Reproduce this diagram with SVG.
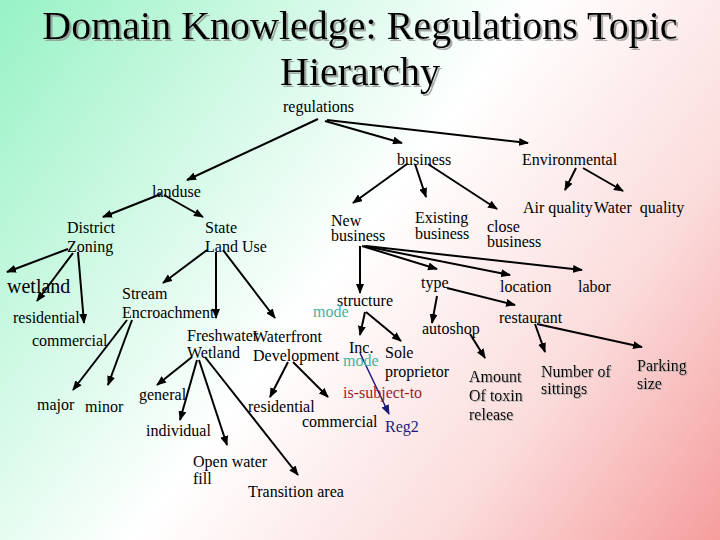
<svg xmlns="http://www.w3.org/2000/svg" width="720" height="540" viewBox="0 0 720 540" font-family="'Liberation Serif', 'DejaVu Serif', serif">
<defs>
<linearGradient id="bg" x1="0" y1="0" x2="720" y2="540" gradientUnits="userSpaceOnUse">
<stop offset="0" stop-color="#97f2c6"/>
<stop offset="0.22" stop-color="#c8f8e0"/>
<stop offset="0.48" stop-color="#ffffff"/>
<stop offset="0.75" stop-color="#fbdcdc"/>
<stop offset="1" stop-color="#f59d9d"/>
</linearGradient>
<filter id="sh" x="-5%" y="-20%" width="110%" height="140%">
<feDropShadow dx="2" dy="2" stdDeviation="0.6" flood-color="#888" flood-opacity="0.7"/>
</filter>
<filter id="sh2" x="-5%" y="-20%" width="110%" height="140%">
<feDropShadow dx="1" dy="1" stdDeviation="0.4" flood-color="#999" flood-opacity="0.7"/>
</filter>
<marker id="ah" viewBox="0 0 10 8" refX="9" refY="4" markerWidth="10" markerHeight="8" markerUnits="userSpaceOnUse" orient="auto">
<path d="M0,0 L10,4 L0,8 Z" fill="#000"/>
</marker>
<marker id="ahn" viewBox="0 0 10 8" refX="9" refY="4" markerWidth="10" markerHeight="8" markerUnits="userSpaceOnUse" orient="auto">
<path d="M0,0 L10,4 L0,8 Z" fill="#1a1a7a"/>
</marker>
</defs>
<style>
text{font-family:'Liberation Serif','DejaVu Serif',serif;font-size:16px;fill:#000}
.title{font-size:40px;filter:url(#sh)}
.big{font-size:20px}
.mode{fill:#3fb3a3}
.red{fill:#a01c24}
.navy{fill:#1c1c80}
.s{filter:url(#sh2)}
#connectors line{stroke:#000;stroke-width:2;marker-end:url(#ah)}
#connectors line.n{stroke:#1a1a7a;stroke-width:1.5;marker-end:url(#ahn)}
</style>
<rect width="720" height="540" fill="url(#bg)"/>
<g id="title">
<text class="title" x="360" y="39" text-anchor="middle">Domain Knowledge: Regulations Topic</text>
<text class="title" x="360" y="85" text-anchor="middle">Hierarchy</text>
</g>
<g id="connectors">
<line x1="318" y1="119" x2="187" y2="180"/>
<line x1="325" y1="121" x2="402" y2="143"/>
<line x1="327" y1="120" x2="528" y2="143"/>
<line x1="161" y1="194" x2="103" y2="217"/>
<line x1="164" y1="195" x2="203" y2="217"/>
<line x1="407" y1="164" x2="353" y2="203"/>
<line x1="415" y1="164" x2="426" y2="197"/>
<line x1="428" y1="164" x2="497" y2="209"/>
<line x1="576" y1="168" x2="565" y2="190"/>
<line x1="583" y1="168" x2="623" y2="191"/>
<line x1="68" y1="249" x2="7" y2="272"/>
<line x1="73" y1="253" x2="37" y2="301"/>
<line x1="78" y1="252" x2="84" y2="323"/>
<line x1="207" y1="250" x2="163" y2="283"/>
<line x1="216" y1="252" x2="216" y2="318"/>
<line x1="223" y1="250" x2="275" y2="318"/>
<line x1="127" y1="320" x2="73" y2="390"/>
<line x1="132" y1="320" x2="108" y2="385"/>
<line x1="360" y1="246" x2="360" y2="293"/>
<line x1="362" y1="246" x2="437" y2="269"/>
<line x1="364" y1="246" x2="510" y2="275"/>
<line x1="366" y1="246" x2="582" y2="270"/>
<line x1="447" y1="288" x2="515" y2="305"/>
<line x1="437" y1="296" x2="432" y2="323"/>
<line x1="365" y1="312" x2="360" y2="335"/>
<line x1="366" y1="312" x2="401" y2="341"/>
<line class="n" x1="360" y1="353" x2="389" y2="414"/>
<line x1="288" y1="362" x2="270" y2="397"/>
<line x1="293" y1="362" x2="328" y2="397"/>
<line x1="192" y1="357" x2="157" y2="385"/>
<line x1="197" y1="360" x2="180" y2="420"/>
<line x1="199" y1="360" x2="227" y2="445"/>
<line x1="205" y1="357" x2="298" y2="475"/>
<line x1="470" y1="334" x2="485" y2="358"/>
<line x1="535" y1="324" x2="545" y2="352"/>
<line x1="537" y1="324" x2="642" y2="347"/>
</g>
<g id="regulations"><text x="283" y="112">regulations</text></g>
<g id="business"><text x="397" y="165">business</text></g>
<g id="environmental"><text x="522" y="165">Environmental</text></g>
<g id="landuse"><text x="152" y="197">landuse</text></g>
<g id="district-zoning"><text x="67" y="233">District</text><text x="67" y="252">Zoning</text></g>
<g id="state-land-use"><text x="205" y="233">State</text><text x="205" y="252">Land Use</text></g>
<g id="new-business"><text x="331" y="226">New</text><text x="331" y="241">business</text></g>
<g id="existing-business"><text x="415" y="223">Existing</text><text x="415" y="239">business</text></g>
<g id="close-business"><text x="487" y="232">close</text><text x="487" y="247">business</text></g>
<g id="air-quality"><text x="523" y="213">Air quality</text></g>
<g id="water-quality"><text x="594" y="213" xml:space="preserve">Water  quality</text></g>
<g id="wetland"><text class="big" x="7" y="293">wetland</text></g>
<g id="residential-1"><text x="13" y="323">residential</text></g>
<g id="commercial-1"><text x="32" y="346">commercial</text></g>
<g id="stream-encroachment"><text x="122" y="299">Stream</text><text x="122" y="318">Encroachment</text></g>
<g id="major"><text x="37" y="410">major</text></g>
<g id="minor"><text x="85" y="412">minor</text></g>
<g id="freshwater-wetland"><text x="187" y="341">Freshwater</text><text x="187" y="358">Wetland</text></g>
<g id="waterfront-development"><text x="253" y="342">Waterfront</text><text x="253" y="361">Development</text></g>
<g id="general"><text x="139" y="400">general</text></g>
<g id="individual"><text x="146" y="436">individual</text></g>
<g id="open-water-fill"><text x="193" y="467">Open water</text><text x="193" y="484">fill</text></g>
<g id="transition-area"><text x="248" y="497">Transition area</text></g>
<g id="residential-2"><text x="248" y="412">residential</text></g>
<g id="commercial-2"><text x="302" y="427">commercial</text></g>
<g id="structure"><text x="337" y="306">structure</text></g>
<g id="mode-1"><text class="mode" x="313" y="317">mode</text></g>
<g id="inc"><text x="349" y="353">Inc.</text></g>
<g id="mode-2"><text class="mode" x="343" y="366">mode</text></g>
<g id="sole-proprietor"><text x="385" y="358">Sole</text><text x="385" y="377">proprietor</text></g>
<g id="is-subject-to"><text class="red" x="343" y="398">is-subject-to</text></g>
<g id="reg2"><text class="navy" x="385" y="432">Reg2</text></g>
<g id="type"><text x="421" y="288">type</text></g>
<g id="location"><text x="500" y="292">location</text></g>
<g id="labor"><text x="578" y="292">labor</text></g>
<g id="autoshop"><text x="422" y="334">autoshop</text></g>
<g id="restaurant"><text x="499" y="323">restaurant</text></g>
<g id="amount-toxin"><text class="s" x="469" y="382">Amount</text><text class="s" x="469" y="401">Of toxin</text><text class="s" x="469" y="420">release</text></g>
<g id="number-sittings"><text class="s" x="541" y="377">Number of</text><text class="s" x="541" y="394">sittings</text></g>
<g id="parking-size"><text class="s" x="637" y="371">Parking</text><text class="s" x="637" y="389">size</text></g>
</svg>
